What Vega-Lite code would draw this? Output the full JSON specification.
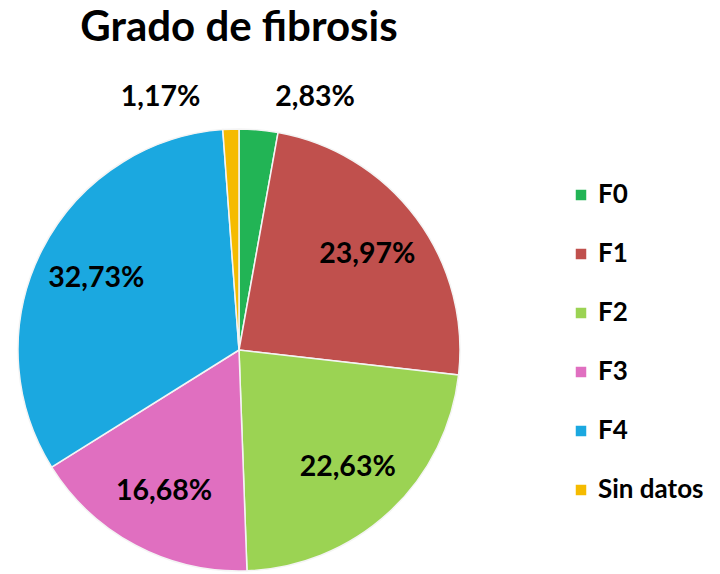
{
  "$schema": "https://vega.github.io/schema/vega-lite/v6.json",
  "autosize": {"type": "none"},
  "width": 442,
  "height": 442,
  "padding": {"left": 18, "top": 129, "right": 260, "bottom": 3},
  "background": "white",
  "title": {
    "text": "Grado de fibrosis",
    "font": "Lato",
    "fontSize": 42,
    "fontWeight": "bold",
    "color": "#000000",
    "anchor": "middle",
    "offset": 32
  },
  "config": {"view": {"stroke": null}},
  "data": {
    "values": [
      {"cat": "F0", "pct": 2.83, "label": "2,83%"},
      {"cat": "F1", "pct": 23.97, "label": "23,97%"},
      {"cat": "F2", "pct": 22.63, "label": "22,63%"},
      {"cat": "F3", "pct": 16.68, "label": "16,68%"},
      {"cat": "F4", "pct": 32.73, "label": "32,73%"},
      {"cat": "Sin datos", "pct": 1.17, "label": "1,17%"}
    ]
  },
  "encoding": {
    "theta": {"field": "pct", "type": "quantitative", "stack": true},
    "order": {"field": "order", "type": "quantitative"}
  },
  "layer": [
    {
      "mark": {"type": "arc", "outerRadius": 221, "stroke": "#f4f4f4", "strokeWidth": 1.5},
      "encoding": {
        "color": {
          "field": "cat",
          "type": "nominal",
          "scale": {
            "domain": ["F0", "F1", "F2", "F3", "F4", "Sin datos"],
            "range": ["#22b455", "#c0504d", "#9bd353", "#e06fc0", "#1ba8e0", "#f5bb00"]
          },
          "legend": {
            "title": null,
            "orient": "none",
            "legendX": 550,
            "legendY": 53,
            "symbolType": "square",
            "symbolSize": 110,
            "symbolStrokeWidth": 0,
            "labelFont": "Lato",
            "labelFontSize": 26,
            "labelFontWeight": "bold",
            "labelColor": "#000000",
            "labelOffset": 4,
            "rowPadding": 33
          }
        }
      }
    },
    {
      "mark": {"type": "text", "radius": 160, "font": "Lato", "fontSize": 28.5, "fontWeight": "bold", "color": "#000000"},
      "encoding": {
        "text": {"condition": {"test": "datum.pct >= 2 && datum.cat != 'F0'", "field": "label"}, "value": ""}
      }
    },
    {
      "mark": {"type": "text", "radius": 262, "align": "left", "baseline": "middle", "dx": 13, "dy": 8, "font": "Lato", "fontSize": 28.5, "fontWeight": "bold", "color": "#000000"},
      "encoding": {
        "text": {"condition": {"test": "datum.cat == 'F0'", "field": "label"}, "value": ""}
      }
    },
    {
      "mark": {"type": "text", "radius": 262, "align": "right", "baseline": "middle", "dx": -29, "dy": 9, "font": "Lato", "fontSize": 28.5, "fontWeight": "bold", "color": "#000000"},
      "encoding": {
        "text": {"condition": {"test": "datum.cat == 'Sin datos'", "field": "label"}, "value": ""}
      }
    }
  ]
}
